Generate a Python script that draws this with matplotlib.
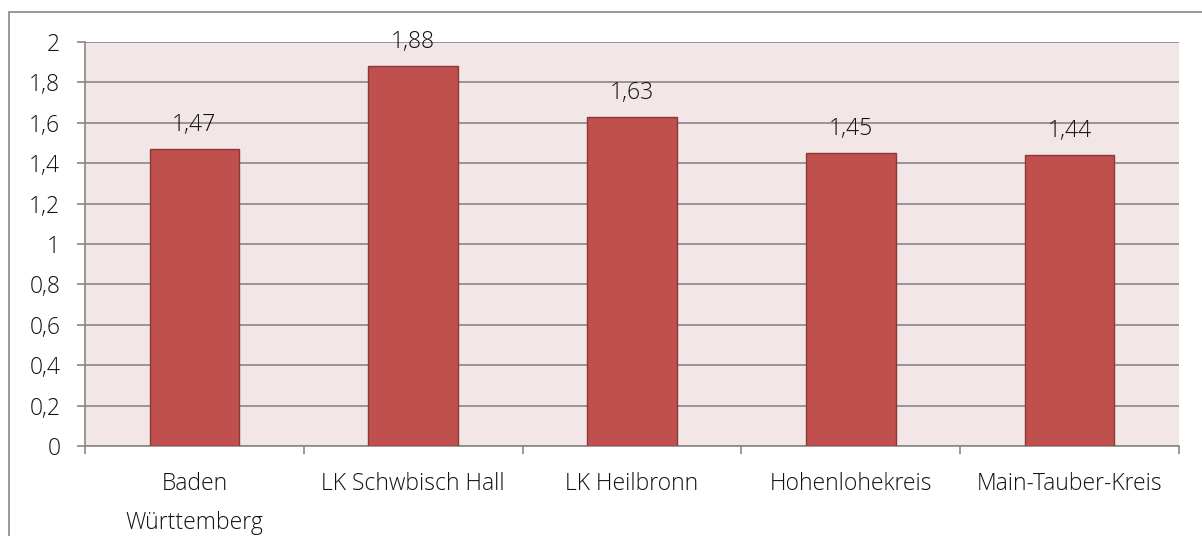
import matplotlib
matplotlib.use("Agg")
import matplotlib.pyplot as plt
from matplotlib.patches import Rectangle
from matplotlib.font_manager import FontProperties
import numpy as np

categories = ["Baden\nWürttemberg", "LK Schwbisch Hall", "LK Heilbronn", "Hohenlohekreis", "Main-Tauber-Kreis"]
values = [1.47, 1.88, 1.63, 1.45, 1.44]
value_labels = ["1,47", "1,88", "1,63", "1,45", "1,44"]
yticks = [0, 0.2, 0.4, 0.6, 0.8, 1.0, 1.2, 1.4, 1.6, 1.8, 2.0]
ytick_labels = ["0", "0,2", "0,4", "0,6", "0,8", "1", "1,2", "1,4", "1,6", "1,8", "2"]

plt.rcParams['font.family'] = ['Open Sans', 'DejaVu Sans']

W, H = 1202, 536
FS = 16.5
TXT = "#111111"
GRID = "#878787"
fig = plt.figure(figsize=(W/100, H/100), dpi=100)
fig.patch.set_facecolor("white")

# outer chart border
fig.patches.append(Rectangle((9/W, -0.05), 1.2, 1 - 12/H + 0.05, transform=fig.transFigure,
                             fill=False, edgecolor=GRID, linewidth=1.2, zorder=0))

ax = fig.add_axes([85/W, (H-446)/H, (1179-85)/W, (446-42)/H])
ax.set_facecolor("#F2E6E6")

x = np.arange(len(categories))
ax.bar(x, values, width=0.41, color="#C0504D", edgecolor="#8C3836", linewidth=1.0, zorder=3)

for xi, v, lab in zip(x, values, value_labels):
    ax.annotate(lab, (xi, v), xytext=(0, 13), textcoords="offset points",
                ha="center", va="baseline", fontsize=FS, color=TXT, fontweight="light")

ax.set_ylim(0, 2)
ax.set_xlim(-0.5, len(categories) - 0.5)
ax.set_yticks(yticks)
ax.set_yticklabels(ytick_labels, fontsize=FS, color=TXT, fontweight="light")
ax.yaxis.grid(True, color=GRID, linewidth=1.2, zorder=1)
ax.set_axisbelow(True)

# text metrics: baselines ~33 px apart, first baseline 44 px below the axis
renderer = fig.canvas.get_renderer()
fp = FontProperties(family=['Open Sans'], weight='light', size=FS)
_, lp_h, lp_d = renderer.get_text_width_height_descent("lp", fp, ismath=False)
asc = max(lp_h - lp_d, 1.0)
ls = 33.0 / asc
pad_pt = (44.0 - asc) * 72 / 100

ax.set_xticks(np.arange(-0.5, len(categories), 1.0))
ax.set_xticklabels([])
ax.set_xticks(x, minor=True)
ax.set_xticklabels(categories, minor=True, fontsize=FS, color=TXT, fontweight="light",
                   linespacing=ls)
ax.tick_params(axis="x", which="minor", length=0, pad=pad_pt)
ax.tick_params(axis="x", which="major", length=5.8, color=GRID, width=1.2)
ax.tick_params(axis="y", length=5.8, color=GRID, width=1.2, pad=12)

for s in ["top", "right"]:
    ax.spines[s].set_visible(False)
for s in ["left", "bottom"]:
    ax.spines[s].set_color(GRID)
    ax.spines[s].set_linewidth(1.2)

fig.savefig("out.png", dpi=100)
